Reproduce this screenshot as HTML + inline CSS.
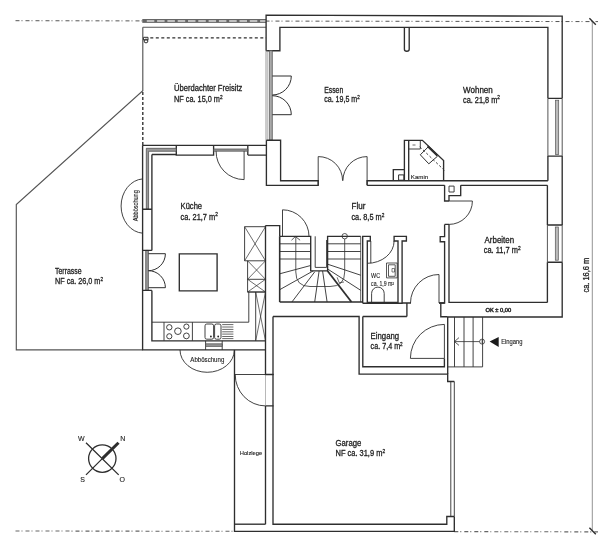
<!DOCTYPE html>
<html><head><meta charset="utf-8">
<style>
html,body{margin:0;padding:0;background:#fff;}
svg{display:block;will-change:transform}
text{font-family:"Liberation Sans",sans-serif;fill:#222;stroke:#222;stroke-width:0.3}
</style></head><body>
<svg width="605" height="547" viewBox="0 0 605 547">
<g fill="none" stroke="#2e2e2e" stroke-width="1.35">
<!-- dash-dot lines -->
<path d="M15.5 20.7L598 21.6" stroke-dasharray="4 2 1 3" stroke-width="1" stroke="#555"/>
<path d="M15.5 531L234.5 531.3M454.3 531.6L598 531.9" stroke-dasharray="4 2 1 3" stroke-width="1.1" stroke="#666"/>
<!-- dimension -->
<path d="M592.3 22V531" stroke-width="0.8" stroke="#777"/>
<path d="M589.4 18.3L595.8 24.7M589.4 527.8L595.8 534.2" stroke-width="1.4"/>
<!-- Freisitz gutter -->
<rect x="142.3" y="19" width="123.8" height="3.9" fill="#666" stroke="none"/>
<path d="M146.8 20.95H266" stroke="#ddd" stroke-width="1.5" stroke-dasharray="7.5 2.8"/>
<path d="M142.8 27.2H266.1" stroke="#555" stroke-width="1.1"/>
<path d="M150.3 37.8H266.1" stroke-dasharray="3 2.5"/>
<path d="M143.5 37.3H148V40H143.5Z" stroke-width="1"/><circle cx="146" cy="41" r="1.9" stroke-width="1"/>
<!-- terrasse -->
<path d="M142.8 27.2V90.7L16.3 204.5V349.9H142.6" stroke="#555" stroke-width="1.15"/>
<path d="M142.8 92V145.3" stroke-dasharray="3 2"/>
<!-- house outer top/right -->
<path d="M266.1 50.7V15.1L562.2 16.2V98.3M562.2 156.1V225M562.2 262.2V317H447.7"/>
<path d="M266.1 50.7H279.9V27.3H547.9V98.3M547.9 156.1V180.7M547.4 185.3V225M547.4 262.2V302.4"/>
<!-- Essen/Wohnen pier -->
<path d="M404.4 27.3V49.2Q404.4 51.2 406.8 51.2Q409.2 51.2 409.2 49.2V27.3"/>
<!-- Essen left window -->
<path d="M265.9 50.7V140.2M267.2 50.7V140.2" stroke-width="0.7" stroke="#888"/>
<path d="M269.3 50.7H272.3V140.2H269.3Z" fill="#aaa" stroke="#555" stroke-width="0.8"/>
<path d="M272.3 76H291.3M272.3 114.7H291.3M291.3 76A19 19 0 0 1 272.3 95M291.3 114.7A19 19 0 0 0 272.3 95.7" stroke-width="1"/>
<!-- Wohnen right window -->
<path d="M547.9 98.3H562.2M547.9 156.1H562.2" />
<path d="M547.9 98.3V156.1M562.2 98.3V156.1" stroke-width="1" stroke="#555"/>
<rect x="555.6" y="100.2" width="3.1" height="54.3" fill="#bbbbbb" stroke="#555" stroke-width="0.7"/>
<!-- Arbeiten right window -->
<path d="M547.4 225H562.2M547.4 262.2H562.2"/>
<path d="M547.4 225V262.2M562.2 225V262.2" stroke-width="1" stroke="#555"/>
<rect x="555.3" y="227" width="3" height="33.2" fill="#bbbbbb" stroke="#555" stroke-width="0.7"/>
<!-- Essen/Flur wall + pier -->
<path d="M266.4 140.2V185.3H318.2V180.7H280.6V140.2H266.4"/>
<!-- double door Essen -->
<path d="M318.2 185.3V156.6A24.1 24.1 0 0 1 342.6 180.7M367.1 185.3V156.6A24.1 24.1 0 0 0 342.9 180.7" stroke-width="0.9"/>
<!-- wall Flur/Wohnen -->
<path d="M367.1 185.3V180.7H547.9M367.1 185.3H444.6M460.7 185.3H547.4"/>
<!-- Kamin -->
<path d="M404.4 181V140.3H422.4L443.6 160.6V181M404.4 169.6H393.3V181M408.7 140.3V180.7"/>
<path d="M398.6 174.9H403.9V180.2H398.6Z" stroke-width="1"/>
<path d="M408.7 149H420.3V140.3" stroke-width="0.9"/>
<path d="M412.5 145H415.5" stroke-width="0.7"/>
<path d="M420.3 154.8L428.3 146.8L437.3 156.4L428.8 163.8Z" stroke-width="1"/>
<path d="M419.8 146.8L444.7 170.7" stroke-dasharray="2.5 2" stroke-width="0.9"/>
<path d="M427.7 146.2L437.3 155.6" stroke-width="2"/>
<!-- Arbeiten pier + left wall -->
<path d="M444.6 185.3V201H449M460.7 185.3V195.6H449V201"/>
<path d="M449 186.1H454.1V192H449Z" stroke-width="0.9"/>
<path d="M449 201H472.4A23.4 23.4 0 0 1 449 224.4" stroke-width="0.9"/>
<path d="M449 224.4V302.4H547.4M444.6 224.4H449M444.6 224.4V236.6H440.2V241.7H444.6V303H439"/>
<!-- Kitchen top wall -->
<path d="M142.6 145.3H266.4M151.9 154.5H176.3M247.8 155.1H266.4"/>
<path d="M176.3 145.4V155.1H213.6V145.4M247.8 145.4V155.1"/>
<path d="M146.3 148.3H176.3V151.3H148.6V209.2H146.3ZM213.6 149H247.8V151.2H213.6Z" fill="#999" stroke="#444" stroke-width="0.7"/>
<!-- kitchen left wall -->
<path d="M142.6 145.3V349.9H265.5M151.9 154.5V250.4M151.9 290.4V340.8H265.5"/>
<path d="M145.7 250.4H148.4V290.4H145.7Z" fill="#999" stroke="#444" stroke-width="0.7"/>
<path d="M142.6 209.2H151.9M142.6 250.4H151.9M142.6 290.4H151.9"/>
<path d="M148.4 253.7H165.4A17 17 0 0 1 148.4 270.7M148.4 287.7H165.4A17 17 0 0 0 148.4 270.7" stroke-width="1"/>
<!-- kitchen door -->
<path d="M244.1 151.1V179.6A28 28 0 0 1 216.1 151.1" stroke-width="0.9"/>
<!-- island -->
<path d="M179.3 253.9H217.1V290.9H179.3Z"/>
<!-- counters -->
<path d="M151.9 322.2H248.8V292" stroke-width="0.9"/>
<path d="M244.6 226.7H265.5M244.6 226.7V260.8H265.5M247.6 260.8V292H265.5M247.6 279.3H265.5M255.7 292V340.8M247.6 292H265.5" stroke-width="0.9"/>
<path d="M244.6 226.7L265.5 260.8M265.5 226.7L244.6 260.8M247.6 260.8L265.5 279.3M265.5 260.8L247.6 279.3M247.6 279.3L265.5 292M265.5 279.3L247.6 292M255.7 292L265.5 340.8M265.5 292L255.7 340.8" stroke-width="0.7"/>
<!-- stove -->
<path d="M164 322.2V340.8M192.4 322.2V340.8" stroke-width="0.9"/>
<circle cx="169.3" cy="327.3" r="2.7" stroke-width="0.9"/>
<circle cx="186.4" cy="326.6" r="2.6" stroke-width="0.9"/>
<circle cx="169.3" cy="336.3" r="2.6" stroke-width="0.9"/>
<circle cx="186.4" cy="335.9" r="2.9" stroke-width="0.9"/>
<circle cx="177.9" cy="331.2" r="3.3" stroke-width="0.9"/>
<!-- sink -->
<rect x="205" y="324" width="8.6" height="15.2" rx="1.8" stroke-width="0.9"/>
<rect x="214.6" y="324" width="6.4" height="15.2" rx="1.8" stroke-width="0.9"/>
<circle cx="210.9" cy="336.5" r="0.9" fill="#222" stroke="none"/>
<circle cx="218.2" cy="336.5" r="0.9" fill="#222" stroke="none"/>
<path d="M222.2 324.6H233.4M222.2 327H233.4M222.2 329.4H233.4M222.2 331.8H233.4M222.2 334.1H233.4M222.2 336.5H233.4M222.2 338.6H233.4" stroke-width="0.8" stroke="#444"/>
<!-- bottom window kitchen -->
<path d="M205.6 340.8V349.9M222.2 340.8V349.9" stroke-width="0.9"/>
<path d="M205.6 343.8H222.2V346.4H205.6Z" fill="#999" stroke="#444" stroke-width="0.7"/>
<!-- Abboeschung bottom -->
<path d="M180 349.9A27.2 22.4 0 0 0 234.4 349.9" stroke-width="0.9"/>
<!-- Abboeschung left -->
<path d="M142.7 178.9A23 27.2 0 0 0 142.7 233.2" stroke-width="0.9"/>
<!-- kitchen/stair wall -->
<path d="M265.5 225.6H279.7V236.3M265.5 225.6V374.5H273.5M265.5 405.9H273.5M265.5 405.9V524.2"/>
<path d="M265.5 374.5V405.9" stroke-width="0.6" stroke="#888"/>
<!-- Flur door above stairs -->
<path d="M282.5 236.3V209.8A26.5 26.5 0 0 1 309 236.3" stroke-width="0.9"/>
<!-- stairs -->
<path d="M279.7 236.3H310.7V270.9H327.6V236.3H360.7"/>
<path d="M360.7 236.3V302" stroke-width="0.8"/>
<path d="M279.7 302H362.7M279.7 236.3V302" stroke-width="1.6"/>
<path d="M315.2 236.3V267.4H326.6V240" stroke-width="0.9"/>
<path d="M279.7 243.8H310.7M279.7 251.5H310.7M279.7 259H310.7M327.6 243.8H360.7M327.6 251.5H360.7M327.6 259H360.7" stroke-width="0.9"/>
<path d="M310.7 265.5L279.7 273.8M313.2 270.9L279.7 289.7M314.7 271.9L291.9 302M319.1 271L314.7 302M322.6 271L327.1 302M327.6 264.2L360.7 275.2M327.6 269L360.7 290.3" stroke-width="0.9"/>
<path d="M327.6 271L351.5 302" stroke-width="1.8"/>
<path d="M295.8 237V272Q295.8 286.5 310 286.5H330Q344.7 286.5 344.7 272V239M291.5 240.2L295.4 236.5L300.1 240.2" stroke-width="0.8"/>
<circle cx="344.7" cy="236.2" r="2.7" stroke-width="0.8"/>
<path d="M337.1 277.3L339.2 282.7L344 282" stroke-width="0.7"/>
<!-- WC -->
<path d="M362.7 303.2V236.4H370.3V241H367.3V302.4H398V241H394.1V236.4H406.4V241H402.1V303.2H362.7"/>
<path d="M394.1 241A26.8 22.3 0 0 1 367.3 263.3M370.8 241V263.3" stroke-width="0.9"/>
<path d="M371.6 302.4V293.4A6.3 6.3 0 0 1 384.2 293.4V302.4" stroke-width="0.9"/>
<path d="M386.5 263H397.2V277.9H386.5ZM388.5 264.8H395.2V276.3H388.5Z" stroke-width="0.8"/>
<path d="M392 268.5H394.5V272H392Z" stroke-width="0.6"/>
<!-- Flur/Eingang door -->
<path d="M402.1 303H411V303M406.9 303V316.5"/>
<path d="M439 303V274.5A28.5 28.5 0 0 0 410.5 303" stroke-width="0.9"/>
<path d="M439 303H444.6M440.8 303V316.7H447.7"/>
<!-- Eingang -->
<path d="M273 316.5H359.1V374.1H447.7V381.5H454.3M362.8 316.5H406.9M362.8 316.5V366.7H444.4V358.4"/>
<path d="M444.4 324.4V358.4M410.4 358.4H444.4" stroke-width="0.9"/>
<path d="M444.4 324.4A34 34 0 0 0 410.4 358.4" stroke-width="0.9"/>
<path d="M447.7 316.7V374.1"/>
<!-- entry steps -->
<path d="M447.7 366.9H482.6V317M454.5 317V366.9M464 317V366.9M473.1 317V366.9" stroke-width="0.9"/>
<path d="M454.5 341.6H479.6M459 337.6L454.5 341.6L459 345.4" stroke-width="0.8"/>
<circle cx="482.1" cy="341.6" r="2.5" stroke-width="0.8"/><path d="M482.1 340V343.2" stroke-width="0.7"/>
<path d="M489.6 341.6L498.7 337.1V347.1Z" fill="#1a1a1a" stroke="none"/>
<!-- Garage -->
<path d="M273 316.5V524.2H446.8V516.5H454.3M234.5 349.9V531.4H454.3V516.5"/>
<path d="M450.8 381.5V516.5M454.3 381.5V516.5" stroke-width="0.9"/>
<path d="M234.5 374.5H273.5" stroke-width="0.9"/>
<path d="M234.5 524.2H265.5"/>
<path d="M235.2 374.5A30.3 31.4 0 0 0 265.5 405.9" stroke-width="0.9"/>
<!-- compass -->
<circle cx="102.3" cy="458.6" r="13.7" stroke-width="1.3"/>
<path d="M86 442.8L118.7 474.9M86 474.9L102.3 458.6" stroke-width="1.3"/>
<path d="M102.3 458.6L118.5 442.8" stroke-width="3"/>
</g>
<g>
<text x="174" y="91.4" font-size="8.5" textLength="68.3" lengthAdjust="spacingAndGlyphs">Überdachter Freisitz</text>
<text x="174" y="101.9" font-size="8.5" textLength="48.6" lengthAdjust="spacingAndGlyphs">NF ca. 15,0 m<tspan font-size="5.5" dy="-3.2">2</tspan></text>
<text x="324.2" y="92.6" font-size="8.5" textLength="19" lengthAdjust="spacingAndGlyphs">Essen</text>
<text x="324.2" y="102.2" font-size="8.5" textLength="35.5" lengthAdjust="spacingAndGlyphs">ca. 19,5 m<tspan font-size="5.5" dy="-3.2">2</tspan></text>
<text x="463" y="92.8" font-size="8.5" textLength="29.8" lengthAdjust="spacingAndGlyphs">Wohnen</text>
<text x="463" y="102.5" font-size="8.5" textLength="37" lengthAdjust="spacingAndGlyphs">ca. 21,8 m<tspan font-size="5.5" dy="-3.2">2</tspan></text>
<text x="180.6" y="209.1" font-size="8.5" textLength="21.5" lengthAdjust="spacingAndGlyphs">Küche</text>
<text x="180.6" y="219.5" font-size="8.5" textLength="37.3" lengthAdjust="spacingAndGlyphs">ca. 21,7 m<tspan font-size="5.5" dy="-3.2">2</tspan></text>
<text x="351.5" y="209.4" font-size="8.5" textLength="13.9" lengthAdjust="spacingAndGlyphs">Flur</text>
<text x="351.4" y="220.4" font-size="8.5" textLength="32.9" lengthAdjust="spacingAndGlyphs">ca. 8,5 m<tspan font-size="5.5" dy="-3.2">2</tspan></text>
<text x="484.6" y="243.4" font-size="8.5" textLength="29.5" lengthAdjust="spacingAndGlyphs">Arbeiten</text>
<text x="483.7" y="253.3" font-size="8.5" textLength="37" lengthAdjust="spacingAndGlyphs">ca. 11,7 m<tspan font-size="5.5" dy="-3.2">2</tspan></text>
<text x="55" y="274.0" font-size="8.5" textLength="26.6" lengthAdjust="spacingAndGlyphs">Terrasse</text>
<text x="55" y="284.4" font-size="8.5" textLength="48" lengthAdjust="spacingAndGlyphs">NF ca. 26,0 m<tspan font-size="5.5" dy="-3.2">2</tspan></text>
<text x="370.6" y="339.2" font-size="8.5" textLength="28.5" lengthAdjust="spacingAndGlyphs">Eingang</text>
<text x="370.6" y="349.4" font-size="8.5" textLength="32.1" lengthAdjust="spacingAndGlyphs">ca. 7,4 m<tspan font-size="5.5" dy="-3.2">2</tspan></text>
<text x="335.5" y="446.1" font-size="8.5" textLength="25.8" lengthAdjust="spacingAndGlyphs">Garage</text>
<text x="335.5" y="456.4" font-size="8.5" textLength="49.6" lengthAdjust="spacingAndGlyphs">NF ca. 31,9 m<tspan font-size="5.5" dy="-3.2">2</tspan></text>
<text x="371.1" y="278" font-size="6.5" textLength="9" lengthAdjust="spacingAndGlyphs" style="stroke-width:0.12">WC</text>
<text x="371.1" y="285.8" font-size="6.5" textLength="23" lengthAdjust="spacingAndGlyphs" style="stroke-width:0.12">ca. 1,9 m²</text>
<text x="410.8" y="178.6" font-size="6" textLength="17.5" lengthAdjust="spacingAndGlyphs" style="stroke-width:0.12">Kamin</text>
<text x="251" y="455" font-size="6" text-anchor="middle" textLength="22.6" lengthAdjust="spacingAndGlyphs" style="stroke-width:0.12">Holzlege</text>
<text x="207.3" y="361.5" font-size="6.5" text-anchor="middle" textLength="34" lengthAdjust="spacingAndGlyphs" style="stroke-width:0.12">Abböschung</text>
<text x="0" y="0" font-size="6.5" text-anchor="middle" textLength="31" lengthAdjust="spacingAndGlyphs" transform="translate(137.8 205.7) rotate(-90)" style="stroke-width:0.12">Abböschung</text>
<text x="501.2" y="344.3" font-size="6.5" textLength="21.4" lengthAdjust="spacingAndGlyphs" style="stroke-width:0.12">Eingang</text>
<text x="0" y="0" font-size="9" text-anchor="middle" textLength="34.6" lengthAdjust="spacingAndGlyphs" transform="translate(589.3 275.2) rotate(-90)">ca. 16,6 m</text>
<text x="485.5" y="312" font-size="5" textLength="25.6" lengthAdjust="spacingAndGlyphs" style="fill:#333;stroke:#333;stroke-width:0.45">OK ± 0,00</text>
<text x="81.3" y="440.5" font-size="7" text-anchor="middle" style="stroke-width:0.12">W</text>
<text x="122.9" y="440.5" font-size="7" text-anchor="middle" style="stroke-width:0.12">N</text>
<text x="82.5" y="482" font-size="7" text-anchor="middle" style="stroke-width:0.12">S</text>
<text x="122.3" y="482" font-size="7" text-anchor="middle" style="stroke-width:0.12">O</text>
</g>
</svg>
</body></html>
